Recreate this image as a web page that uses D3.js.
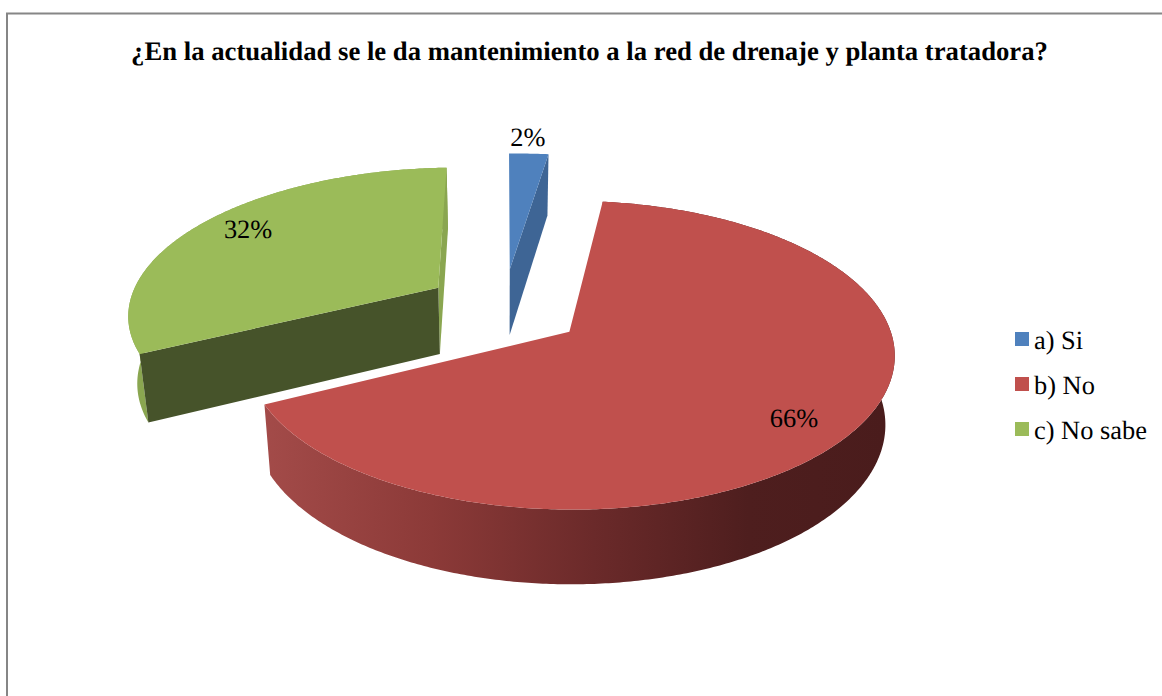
<!DOCTYPE html>
<html><head><meta charset="utf-8">
<script src="https://cdn.jsdelivr.net/npm/d3@7"></script>
<style>html,body{margin:0;padding:0;background:#fff}svg{display:block}text{font-family:"Liberation Serif",serif;fill:#000;text-rendering:geometricPrecision}</style>
</head><body><svg id="c" width="1162" height="696"></svg>
<script>
const title = "¿En la actualidad se le da mantenimiento a la red de drenaje y planta tratadora?";
const categories = ["a) Si","b) No","c) No sabe"];
const values = [2.4,65.6,32];
const topColors = ["#4f81bd","#c0504d","#9bbb59"];
const cutColors = ["#3e6595","#6b2a2a","#46532a"];
const sideColors = ["#3e6595","#8a3a38","#8aa650"];
const labelRadius = [1.165,0.83,0.83];
const labelTurn = [-0.7,4.2,2.5];

const svg = d3.select("#c");
svg.append("path").attr("d","M1162,13.5H7V696").attr("fill","none").attr("stroke","#868686").attr("stroke-width",2);

svg.append("text").attr("x",589.5).attr("y",60).attr("text-anchor","middle")
  .attr("font-weight","bold").attr("font-size",26.7).text(title);

const X0=504, Y0=308, R=312, S=143.5, K=0.148, EX=0.255, EY=0.28, SHRINK=0.976, SHEAR=4;
const w = v => 1/(1+K*v);
const depth = ww => 30+37*ww;
function proj(u,v,bottom){
  const ww=w(v);
  const x=R*u*ww;
  return [X0+(bottom?x*SHRINK:x), Y0-(S*v+SHEAR*u)*ww+(bottom?depth(ww):0)];
}
const arcs = d3.pie().sort(null).startAngle(0).endAngle(2*Math.PI)(values);
const line = d3.line();
const STEP = 0.01;
const fmt = d3.format(".0f");
function rimAngles(a0,a1){ return d3.range(a0,a1,STEP).concat([a1]); }

arcs.forEach(a=>{
  const mid=(a.startAngle+a.endAngle)/2;
  a.ox=EX*Math.sin(mid); a.oy=EY*Math.cos(mid); a.mid=mid;
  a.rim=(t,b)=>proj(a.ox+Math.sin(t),a.oy+Math.cos(t),b);
  a.apex=b=>proj(a.ox,a.oy,b);
});

const defs=svg.append("defs");
const grad=defs.append("linearGradient").attr("id","redSide").attr("gradientUnits","userSpaceOnUse")
  .attr("x1",264).attr("x2",885).attr("y1",0).attr("y2",0);
[[0,"#a34b49"],[0.27,"#8c3a38"],[0.53,"#6b2a2a"],[0.78,"#4e1e1e"],[1,"#4a1c1c"]]
 .forEach(s=>grad.append("stop").attr("offset",s[0]).attr("stop-color",s[1]));

function cutFace(a,t,fill){
  svg.append("path").attr("d",line([a.apex(false),a.rim(t,false),a.rim(t,true),a.apex(true)])+"Z").attr("fill",fill);
}
function sideFace(a,t0,t1,fill){
  const ts=rimAngles(t0,t1);
  const pts=ts.map(t=>a.rim(t,false)).concat(ts.slice().reverse().map(t=>a.rim(t,true)));
  svg.append("path").attr("d",line(pts)+"Z").attr("fill",fill);
}
function topFace(a,fill){
  const pts=[a.apex(false)].concat(rimAngles(a.startAngle,a.endAngle).map(t=>a.rim(t,false)));
  svg.append("path").attr("d",line(pts)+"Z").attr("fill",fill);
}
const [blue,red,green]=arcs;
sideFace(green,green.startAngle,green.endAngle,sideColors[2]);
cutFace(green,green.endAngle,sideColors[2]);
cutFace(green,green.startAngle,cutColors[2]);
topFace(green,topColors[2]);
cutFace(blue,blue.endAngle,cutColors[0]);
topFace(blue,topColors[0]);
sideFace(red,red.startAngle,red.endAngle,"url(#redSide)");
topFace(red,topColors[1]);

arcs.forEach((a,i)=>{
  const t=a.mid+labelTurn[i]*Math.PI/180;
  const p=proj(a.ox+labelRadius[i]*Math.sin(t),a.oy+labelRadius[i]*Math.cos(t),false);
  svg.append("text").attr("x",p[0]).attr("y",p[1]).attr("text-anchor","middle")
    .attr("dominant-baseline","central").attr("font-size",26.4).text(fmt(a.data)+"%");
});

const ly=d3.scalePoint().domain(categories).range([332,422]);
categories.forEach((c,i)=>{
  svg.append("rect").attr("x",1015).attr("y",ly(c)).attr("width",14).attr("height",14).attr("fill",topColors[i]);
  svg.append("text").attr("x",1034).attr("y",ly(c)+17).attr("font-size",26.4).text(c);
});
</script></body></html>
